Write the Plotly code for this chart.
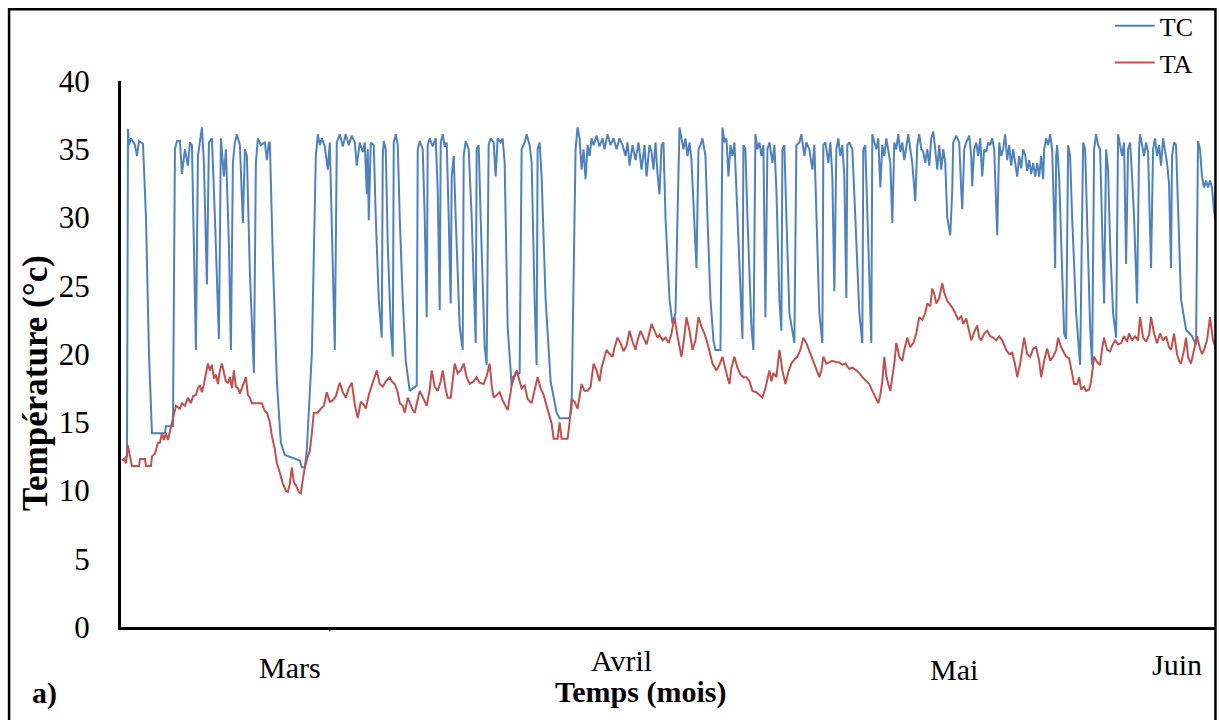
import plotly.graph_objects as go

# Time in days since start of record; temperatures in degC
tc_jour = [
    0.1, 0.6, 0.7, 0.8, 1.0, 1.4, 1.6, 1.8, 2.2, 2.5,
    2.8, 3.1, 4.4, 4.5, 5.2, 5.4, 5.6, 5.9, 6.1, 6.4,
    6.7, 6.9, 7.1, 7.3, 7.5, 7.7, 7.9, 8.1, 8.3, 8.6,
    8.8, 9.1, 9.4, 9.8, 10.0, 10.3, 10.5, 10.8, 11.0, 11.2,
    11.4, 11.6, 11.9, 12.2, 12.4, 12.6, 12.9, 13.3, 13.5, 13.7,
    14.0, 14.4, 14.6, 14.8, 14.9, 15.2, 15.6, 16.0, 16.4, 17.9,
    18.1, 18.4, 18.6, 19.1, 19.5, 19.7, 19.9, 20.1, 20.4, 20.7,
    20.9, 21.1, 21.4, 21.6, 21.9, 22.2, 22.5, 22.8, 23.1, 23.4,
    23.6, 23.9, 24.2, 24.4, 24.6, 24.7, 24.8, 25.0, 25.3, 25.5,
    25.8, 26.1, 26.2, 26.3, 26.5, 26.7, 27.0, 27.2, 27.3, 27.5,
    27.7, 27.9, 28.2, 28.5, 28.9, 29.6, 29.7, 29.9, 30.2, 30.4,
    30.6, 30.7, 30.9, 31.2, 31.5, 31.7, 31.9, 32.0, 32.2, 32.4,
    32.6, 32.8, 33.0, 33.1, 33.3, 33.5, 33.9, 34.2, 34.3, 34.5,
    34.8, 35.1, 35.5, 35.6, 35.8, 36.0, 36.4, 36.6, 36.8, 37.0,
    37.3, 37.5, 37.7, 38.0, 38.2, 38.4, 38.7, 39.1, 39.5, 39.9,
    40.0, 40.1, 40.4, 40.6, 40.9, 41.1, 41.4, 41.6, 41.7, 41.9,
    42.1, 42.5, 43.0, 43.6, 43.9, 44.9, 45.1, 45.3, 45.5, 45.7,
    45.9, 46.1, 46.3, 46.5, 46.7, 46.9, 47.1, 47.3, 47.6, 47.9,
    48.2, 48.4, 48.7, 49.0, 49.3, 49.6, 49.9, 50.2, 50.5, 50.7,
    50.9, 51.2, 51.5, 51.8, 52.1, 52.4, 52.6, 52.9, 53.1, 53.3,
    53.5, 53.7, 53.9, 54.1, 54.3, 54.5, 54.9, 55.2, 55.5, 55.7,
    55.9, 56.1, 56.3, 56.5, 56.7, 56.9, 57.1, 57.3, 57.6, 57.8,
    58.0, 58.2, 58.5, 58.7, 59.0, 59.3, 59.5, 60.0, 60.2, 60.4,
    60.6, 60.8, 61.0, 61.2, 61.4, 61.6, 61.9, 62.2, 62.3, 62.5,
    62.7, 63.1, 63.3, 63.5, 63.7, 63.9, 64.1, 64.3, 64.5, 64.7,
    64.9, 65.2, 65.4, 65.6, 65.9, 66.1, 66.2, 66.4, 66.6, 66.9,
    67.4, 67.6, 67.9, 68.1, 68.4, 68.6, 68.9, 69.2, 69.4, 69.6,
    69.9, 70.2, 70.3, 70.5, 70.8, 71.0, 71.2, 71.4, 71.6, 71.8,
    72.0, 72.2, 72.4, 72.6, 72.7, 72.9, 73.2, 73.5, 73.9, 74.2,
    74.3, 74.5, 74.7, 75.0, 75.1, 75.2, 75.4, 75.6, 75.8, 76.0,
    76.2, 76.4, 76.6, 76.8, 77.0, 77.2, 77.4, 77.6, 77.8, 78.0,
    78.2, 78.4, 78.6, 78.8, 79.0, 79.2, 79.5, 79.7, 79.9, 80.1,
    80.3, 80.5, 80.7, 80.9, 81.1, 81.3, 81.5, 81.7, 81.9, 82.1,
    82.3, 82.5, 82.7, 83.0, 83.2, 83.3, 83.6, 83.9, 84.1, 84.2,
    84.4, 84.6, 84.9, 85.1, 85.2, 85.4, 85.6, 85.8, 86.0, 86.2,
    86.4, 86.6, 86.8, 87.0, 87.2, 87.4, 87.7, 87.9, 88.1, 88.3,
    88.5, 88.7, 88.9, 89.1, 89.3, 89.5, 89.7, 89.9, 90.1, 90.3,
    90.5, 90.7, 90.9, 91.1, 91.3, 91.5, 91.7, 91.9, 92.1, 92.3,
    92.4, 92.6, 92.8, 93.0, 93.2, 93.4, 93.5, 93.6, 93.7, 93.9,
    94.2, 94.4, 94.6, 94.7, 94.8, 95.0, 95.2, 95.6, 96.0, 96.2,
    96.3, 96.5, 96.7, 97.0, 97.2, 97.3, 97.4, 97.6, 97.8, 98.0,
    98.2, 98.4, 98.6, 98.8, 99.0, 99.3, 99.6, 99.7, 99.8, 100.0,
    100.2, 100.4, 100.6, 100.8, 101.0, 101.2, 101.4, 101.7, 101.9, 102.0,
    102.2, 102.4, 102.6, 102.8, 103.1, 103.3, 103.5, 103.7, 103.9, 104.1,
    104.3, 104.5, 104.7, 104.9, 105.1, 105.2, 105.4, 105.6, 105.8, 106.1,
    106.6, 107.2, 107.6, 107.7, 107.8, 108.0, 108.2, 108.4, 108.6, 108.8,
    109.0, 109.2, 109.4, 109.6,
]
tc_temp = [
    12.2, 12.5, 36.5, 35.3, 35.8, 35.3, 34.5, 35.6, 35.4, 30.0,
    20.0, 14.2, 14.2, 14.7, 14.7, 35.0, 35.6, 35.6, 33.2, 35.0,
    33.8, 35.5, 35.3, 28.0, 20.3, 34.5, 35.5, 36.6, 34.0, 25.1,
    35.5, 35.8, 30.0, 21.1, 35.8, 33.0, 35.0, 28.0, 20.3, 34.0,
    35.5, 36.1, 35.3, 29.6, 35.0, 34.5, 26.0, 18.6, 34.0, 35.8,
    35.3, 35.5, 34.2, 35.5, 35.5, 27.0, 18.0, 13.5, 12.6, 12.2,
    11.7, 11.7, 13.0, 20.0, 34.5, 36.1, 35.3, 35.8, 35.2, 33.5,
    35.5, 30.0, 20.3, 35.5, 36.1, 35.2, 36.1, 35.3, 36.0, 35.5,
    33.8, 35.5, 34.8, 35.5, 31.7, 35.0, 29.8, 35.5, 35.3, 30.0,
    24.0, 21.2, 34.5, 35.6, 35.0, 28.0, 22.0, 19.8, 35.5, 36.1,
    35.3, 30.0, 24.0, 19.5, 17.3, 17.7, 35.0, 35.6, 35.0, 30.0,
    22.7, 35.3, 35.8, 35.2, 35.8, 32.0, 23.2, 35.5, 36.1, 35.2,
    35.5, 30.0, 23.7, 33.0, 34.5, 30.0, 22.0, 20.3, 34.5, 35.6,
    35.0, 30.0, 20.8, 35.0, 35.3, 30.0, 20.5, 19.2, 35.3, 35.8,
    35.5, 33.0, 35.8, 35.5, 35.8, 34.0, 22.0, 17.7, 18.6, 18.6,
    30.0, 35.0, 35.5, 36.1, 35.3, 34.0, 24.0, 19.2, 35.0, 35.5,
    33.0, 24.0, 18.0, 15.7, 15.3, 15.3, 16.0, 25.0, 35.0, 36.6,
    35.8, 33.5, 35.0, 32.8, 35.3, 34.5, 35.8, 35.3, 36.0, 35.2,
    35.8, 35.0, 36.1, 35.3, 35.8, 35.0, 35.8, 35.3, 34.5, 35.5,
    33.8, 35.3, 34.2, 35.5, 33.5, 35.3, 33.0, 35.3, 34.8, 33.5,
    35.5, 33.2, 31.7, 35.3, 35.5, 30.0, 24.0, 22.2, 23.0, 30.0,
    36.6, 35.8, 35.0, 35.8, 34.5, 35.5, 34.2, 31.0, 26.3, 35.0,
    35.3, 35.8, 34.5, 30.0, 24.0, 21.0, 20.3, 20.3, 36.6, 35.5,
    35.8, 33.0, 35.3, 34.5, 35.5, 32.0, 26.0, 21.1, 35.3, 35.0,
    30.0, 22.0, 20.3, 36.1, 35.0, 35.5, 34.5, 35.3, 22.7, 35.0,
    35.5, 34.0, 35.3, 32.0, 24.0, 21.7, 35.0, 35.3, 30.0, 23.0,
    20.8, 35.3, 35.5, 36.1, 34.5, 35.5, 35.0, 33.5, 35.3, 30.0,
    23.0, 20.8, 35.3, 35.5, 34.0, 35.5, 33.0, 24.6, 35.0, 35.8,
    34.5, 35.3, 33.0, 24.1, 35.3, 35.5, 35.0, 30.0, 23.0, 20.8,
    35.0, 35.3, 30.0, 22.0, 20.8, 36.1, 35.5, 35.0, 35.8, 32.2,
    35.3, 34.5, 35.8, 35.0, 34.0, 29.6, 35.5, 35.0, 36.1, 34.8,
    35.5, 34.2, 35.3, 36.1, 35.0, 34.0, 31.2, 35.3, 36.1, 35.0,
    34.8, 34.0, 35.0, 33.8, 35.8, 36.3, 35.0, 33.5, 35.3, 33.5,
    35.0, 34.0, 30.0, 28.7, 32.0, 35.5, 36.0, 35.5, 32.0, 30.6,
    35.0, 35.5, 36.0, 34.5, 32.3, 35.0, 35.5, 34.5, 35.8, 33.0,
    35.0, 34.8, 35.5, 35.3, 35.8, 35.0, 28.7, 35.5, 34.5, 35.0,
    36.1, 34.2, 35.3, 33.8, 35.0, 34.0, 33.0, 34.5, 33.6, 35.0,
    34.6, 33.4, 34.2, 33.2, 34.0, 33.0, 34.0, 33.0, 34.5, 32.8,
    35.0, 35.8, 35.3, 36.1, 35.0, 30.0, 26.3, 34.5, 35.3, 33.0,
    25.0, 21.5, 21.1, 30.0, 35.3, 34.5, 30.0, 23.0, 19.2, 30.0,
    35.5, 35.0, 30.0, 22.0, 19.2, 25.0, 35.0, 36.1, 35.3, 35.0,
    30.0, 23.7, 35.0, 33.5, 28.0, 23.0, 21.2, 30.0, 36.1, 35.3,
    34.5, 35.5, 26.6, 35.0, 35.5, 33.0, 30.0, 23.7, 35.0, 36.1,
    35.3, 34.5, 35.5, 34.8, 26.3, 35.0, 35.8, 34.5, 35.3, 33.8,
    35.8, 35.0, 34.0, 32.5, 26.3, 34.5, 35.5, 35.3, 30.0, 24.0,
    21.8, 21.3, 20.7, 28.0, 35.6, 35.0, 33.0, 32.2, 32.7, 32.2,
    32.7, 32.2, 30.5, 29.5,
]

ta_jour = [
    0.1, 0.3, 0.5, 0.7, 0.9, 1.1, 1.8, 1.9, 2.4, 2.5,
    3.0, 3.1, 3.4, 3.7, 3.9, 4.1, 4.3, 4.5, 4.7, 4.9,
    5.2, 5.5, 5.9, 6.1, 6.4, 6.7, 7.0, 7.2, 7.5, 7.7,
    7.9, 8.1, 8.3, 8.5, 8.7, 8.9, 9.1, 9.3, 9.5, 9.7,
    9.9, 10.1, 10.3, 10.5, 10.7, 10.9, 11.1, 11.3, 11.5, 11.7,
    11.9, 12.1, 12.3, 12.5, 12.7, 12.9, 13.1, 13.5, 14.1, 14.4,
    14.6, 14.9, 15.1, 15.4, 15.6, 15.9, 16.2, 16.5, 16.7, 16.9,
    17.1, 17.3, 17.5, 17.8, 18.0, 18.2, 18.4, 18.7, 18.9, 19.1,
    19.3, 19.7, 20.0, 20.3, 20.6, 20.9, 21.2, 21.5, 21.9, 22.2,
    22.5, 22.8, 23.1, 23.4, 23.7, 24.0, 24.3, 24.5, 24.8, 25.2,
    25.6, 25.9, 26.2, 26.5, 26.9, 27.1, 27.4, 27.7, 27.9, 28.2,
    28.4, 28.7, 28.9, 29.2, 29.4, 29.7, 29.9, 30.1, 30.3, 30.6,
    30.9, 31.1, 31.4, 31.7, 32.0, 32.2, 32.5, 32.7, 33.0, 33.4,
    33.7, 34.0, 34.3, 34.6, 34.9, 35.3, 35.6, 35.9, 36.3, 36.6,
    36.9, 37.1, 37.3, 37.6, 37.9, 38.2, 38.5, 38.7, 39.0, 39.2,
    39.4, 39.6, 39.9, 40.1, 40.4, 40.7, 41.1, 41.4, 41.7, 42.0,
    42.3, 42.6, 42.9, 43.1, 43.3, 43.7, 43.9, 44.1, 44.7, 44.9,
    45.1, 45.4, 45.7, 45.9, 46.1, 46.4, 46.7, 47.0, 47.3, 47.6,
    47.9, 48.1, 48.4, 48.6, 48.9, 49.2, 49.4, 49.7, 50.0, 50.3,
    50.6, 50.9, 51.2, 51.5, 51.7, 52.0, 52.3, 52.6, 52.9, 53.1,
    53.4, 53.7, 53.9, 54.2, 54.5, 54.8, 55.1, 55.4, 55.7, 55.9,
    56.1, 56.3, 56.6, 56.9, 57.2, 57.5, 57.8, 58.1, 58.4, 58.7,
    59.0, 59.2, 59.6, 59.9, 60.2, 60.5, 60.7, 60.9, 61.1, 61.4,
    61.7, 62.0, 62.3, 62.6, 62.9, 63.2, 63.6, 63.9, 64.2, 64.5,
    64.7, 64.9, 65.1, 65.3, 65.6, 65.9, 66.2, 66.5, 66.8, 67.1,
    67.4, 67.7, 68.0, 68.3, 68.6, 68.9, 69.2, 69.6, 69.9, 70.1,
    70.3, 70.6, 70.9, 71.2, 71.6, 71.9, 72.2, 72.5, 72.9, 73.2,
    73.6, 73.9, 74.2, 74.6, 74.9, 75.2, 75.5, 75.8, 76.0, 76.2,
    76.4, 76.6, 76.8, 77.0, 77.2, 77.4, 77.6, 77.9, 78.2, 78.4,
    78.7, 79.0, 79.3, 79.6, 79.9, 80.2, 80.5, 80.7, 81.0, 81.2,
    81.4, 81.6, 81.9, 82.2, 82.4, 82.7, 83.0, 83.2, 83.5, 83.8,
    84.1, 84.3, 84.6, 84.9, 85.1, 85.4, 85.7, 85.9, 86.1, 86.4,
    86.7, 87.0, 87.3, 87.6, 87.9, 88.2, 88.4, 88.6, 88.9, 89.2,
    89.5, 89.7, 90.0, 90.4, 90.7, 91.0, 91.3, 91.6, 91.9, 92.1,
    92.4, 92.7, 93.0, 93.3, 93.6, 93.8, 94.1, 94.3, 94.6, 94.9,
    95.1, 95.4, 95.7, 95.9, 96.1, 96.4, 96.6, 96.9, 97.1, 97.4,
    97.7, 98.0, 98.2, 98.4, 98.7, 99.0, 99.2, 99.5, 99.8, 100.1,
    100.4, 100.7, 100.9, 101.2, 101.5, 101.8, 102.0, 102.3, 102.6, 102.9,
    103.1, 103.4, 103.7, 104.0, 104.3, 104.6, 104.9, 105.1, 105.4, 105.7,
    105.9, 106.1, 106.4, 106.6, 106.8, 107.1, 107.4, 107.7, 108.0, 108.2,
    108.4, 108.7, 109.0, 109.3, 109.6,
]
ta_temp = [
    12.2, 12.3, 12.0, 13.3, 12.5, 11.8, 11.8, 12.3, 12.3, 11.8,
    11.8, 12.5, 12.7, 13.5, 13.5, 14.2, 13.7, 14.2, 13.7, 14.3,
    15.1, 16.2, 16.0, 16.4, 16.2, 16.8, 16.4, 16.9, 17.0, 17.5,
    17.7, 17.2, 17.8, 18.5, 19.3, 18.8, 19.2, 18.2, 18.5, 17.8,
    18.8, 19.3, 18.5, 18.0, 17.9, 18.3, 17.5, 18.8, 17.6, 17.5,
    17.1, 17.5, 17.8, 18.3, 17.0, 16.8, 16.4, 16.4, 16.4, 15.8,
    15.7, 15.0, 14.0, 13.0, 12.0, 11.3, 10.5, 10.0, 9.9, 10.5,
    11.7, 10.6, 10.4, 9.9, 9.8, 10.8, 11.7, 12.5, 12.9, 14.2,
    15.7, 15.7, 16.0, 16.2, 17.2, 16.5, 16.6, 16.9, 17.9, 17.2,
    16.8, 17.5, 17.9, 16.3, 15.3, 16.5, 16.3, 16.0, 17.0, 17.9,
    18.8, 17.8, 17.6, 18.0, 18.3, 18.0, 17.8, 17.2, 16.4, 16.2,
    15.7, 16.8, 16.4, 15.9, 15.7, 16.6, 17.3, 17.0, 16.7, 16.2,
    17.4, 18.8, 17.6, 17.3, 18.0, 18.8, 17.4, 16.8, 16.8, 19.3,
    18.6, 18.8, 19.3, 18.3, 17.8, 18.0, 18.3, 17.9, 17.8, 18.4,
    19.3, 17.7, 16.8, 17.0, 17.2, 16.6, 16.2, 15.9, 17.2, 18.3,
    18.4, 18.8, 18.0, 17.5, 17.7, 16.7, 16.4, 17.3, 18.3, 17.5,
    17.0, 16.2, 15.3, 14.9, 13.8, 13.8, 15.0, 13.8, 13.8, 15.0,
    16.7, 16.5, 16.0, 16.8, 17.8, 17.3, 17.3, 17.6, 19.3, 18.8,
    18.0, 19.0, 19.9, 20.3, 20.0, 19.8, 20.5, 21.2, 20.8, 20.2,
    20.6, 21.7, 20.9, 20.3, 21.0, 21.7, 21.2, 20.7, 21.6, 22.2,
    21.7, 21.2, 21.4, 21.0, 21.2, 20.8, 21.5, 22.7, 21.3, 20.5,
    19.8, 20.8, 22.7, 21.7, 20.3, 21.0, 22.7, 22.0, 21.5, 20.8,
    19.8, 19.3, 18.8, 19.2, 19.8, 18.8, 18.3, 17.8, 19.0, 19.8,
    19.0, 18.5, 18.3, 18.3, 18.0, 17.3, 17.2, 17.0, 16.8, 17.5,
    18.3, 18.8, 18.0, 18.6, 18.3, 20.3, 18.8, 17.8, 18.7, 19.3,
    19.6, 19.8, 20.3, 21.2, 20.8, 20.2, 19.6, 18.8, 18.3, 18.8,
    19.8, 19.3, 19.4, 19.5, 19.4, 19.4, 19.2, 19.3, 18.9, 19.0,
    18.8, 18.6, 18.3, 18.0, 17.8, 17.3, 16.9, 16.4, 17.0, 18.0,
    19.8, 18.4, 17.8, 17.3, 18.3, 19.3, 20.8, 19.8, 19.5, 20.3,
    21.2, 20.5, 20.8, 21.5, 22.7, 22.5, 23.0, 23.7, 23.5, 24.8,
    24.4, 23.7, 24.1, 25.2, 24.5, 23.9, 23.6, 23.4, 23.0, 22.5,
    22.8, 22.2, 22.6, 21.5, 21.0, 21.6, 22.1, 21.2, 21.0, 21.5,
    21.7, 21.3, 21.2, 21.0, 21.3, 21.0, 20.6, 20.3, 20.0, 20.1,
    19.2, 18.3, 19.3, 21.2, 20.0, 19.8, 20.4, 20.5, 19.5, 18.3,
    19.5, 20.4, 19.5, 19.8, 20.3, 21.2, 20.5, 20.2, 19.8, 19.7,
    19.0, 17.8, 17.8, 18.3, 17.4, 17.6, 17.3, 17.4, 18.0, 19.8,
    19.4, 19.2, 20.4, 21.2, 20.3, 20.2, 20.6, 21.0, 20.7, 20.8,
    21.3, 20.9, 21.5, 21.0, 21.3, 21.0, 22.7, 21.2, 20.9, 21.4,
    22.7, 21.5, 20.8, 21.5, 21.0, 21.3, 20.5, 20.3, 21.5, 20.0,
    19.5, 19.3, 20.3, 21.2, 19.8, 19.3, 20.3, 21.3, 20.4, 20.0,
    20.3, 21.0, 22.7, 21.0, 20.4,
]

mois_labels = ["Mars", "Avril", "Mai", "Juin"]
mois_jour = [16.9, 50.1, 83.4, 105.7]
mois_ypos = [-0.075, -0.062, -0.077, -0.068]
y_ticks = [0, 5, 10, 15, 20, 25, 30, 35, 40]

SERIF = "Liberation Serif, Times New Roman, serif"

fig = go.Figure()
fig.add_trace(go.Scatter(x=tc_jour, y=tc_temp, mode="lines", name="TC",
                         line=dict(color="#4F81BD", width=2)))
fig.add_trace(go.Scatter(x=ta_jour, y=ta_temp, mode="lines", name="TA",
                         line=dict(color="#C0504D", width=2)))

annotations = []
for lab, xd, yp in zip(mois_labels, mois_jour, mois_ypos):
    annotations.append(dict(x=xd, y=yp, xref="x", yref="paper", text=lab,
                            showarrow=False, xanchor="center", yanchor="middle",
                            font=dict(family=SERIF, size=30, color="black")))
annotations.append(dict(x=0.474, y=-0.119, xref="paper", yref="paper",
                        text="<b>Temps (mois)</b>", showarrow=False,
                        xanchor="center", yanchor="middle",
                        font=dict(family=SERIF, size=30, color="black")))
annotations.append(dict(x=-0.078, y=0.446, xref="paper", yref="paper",
                        text="<b>Température (°c)</b>", showarrow=False, textangle=-90,
                        xanchor="center", yanchor="middle",
                        font=dict(family=SERIF, size=35, color="black")))
annotations.append(dict(x=-0.07, y=-0.12, xref="paper", yref="paper",
                        text="<b>a)</b>", showarrow=False,
                        xanchor="center", yanchor="middle",
                        font=dict(family=SERIF, size=30, color="black")))

shapes = [
    dict(type="rect", xref="paper", yref="paper", x0=-0.1022, x1=0.9995,
         y0=-0.18, y1=1.1316, line=dict(color="black", width=2.5), layer="above"),
    dict(type="line", xref="x", yref="paper", x0=20.9, x1=20.9, y0=0, y1=-0.008,
         line=dict(color="black", width=1)),
]

fig.update_layout(
    width=1219, height=720,
    margin=dict(l=121, r=3, t=80, b=93),
    paper_bgcolor="white", plot_bgcolor="white",
    font=dict(family=SERIF, color="black"),
    showlegend=True,
    legend=dict(x=0.903, y=1.142, xanchor="left", yanchor="top",
                bgcolor="rgba(0,0,0,0)", font=dict(family=SERIF, size=26, color="black"),
                tracegroupgap=0, itemwidth=40),
    xaxis=dict(range=[0, 109.6], showgrid=False, zeroline=False, showticklabels=False,
               showline=True, linecolor="black", linewidth=3, ticks=""),
    yaxis=dict(range=[0, 40], tickvals=y_ticks, showgrid=False, zeroline=False,
               showline=True, linecolor="black", linewidth=3, ticks="",
               ticklabelstandoff=22,
               tickfont=dict(family=SERIF, size=31, color="black")),
    annotations=annotations,
    shapes=shapes,
)

fig.write_html("out.html")
